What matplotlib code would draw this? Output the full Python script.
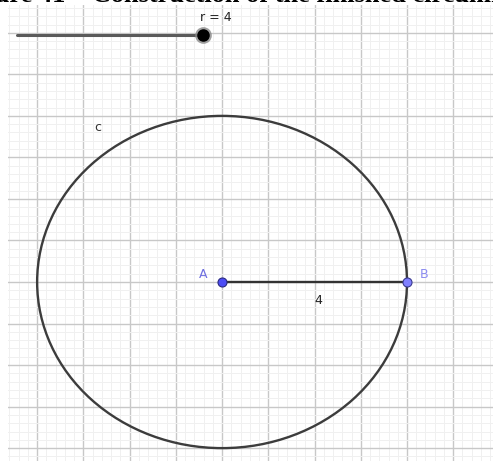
import matplotlib
matplotlib.use("Agg")
import matplotlib.pyplot as plt
from matplotlib.patches import Circle
from matplotlib.ticker import MultipleLocator

# construction values
r = 4
center = (0, 0)
point_names = ["A", "B"]
slider_min = -4.43
slider_max = -0.41
x_range = (-4.63, 5.86)
y_range = (-4.31, 6.67)
caption = "Figure 41 – Construction of the finished circumference"

fig = plt.figure(figsize=(4.93, 4.61), dpi=100)
ax = fig.add_axes([8 / 493, 0, 1 - 8 / 493, 1 - 5 / 461])
ax.set_xlim(*x_range)
ax.set_ylim(*y_range)

# grid like geogebra
ax.xaxis.set_major_locator(MultipleLocator(1))
ax.yaxis.set_major_locator(MultipleLocator(1))
ax.xaxis.set_minor_locator(MultipleLocator(0.2))
ax.yaxis.set_minor_locator(MultipleLocator(0.2))
ax.grid(which="minor", color="#f0f0f0", lw=0.7)
ax.grid(which="major", color="#c8c8c8", lw=1.0)
ax.set_axisbelow(True)
ax.tick_params(which="both", length=0, labelbottom=False, labelleft=False)
for s in ax.spines.values():
    s.set_visible(False)

# circle c
ax.add_patch(Circle(center, r, fill=False, ec="#3c3c3c", lw=1.7, zorder=3))
ax.text(-2.68, 3.71, "c", fontsize=9, color="#333333", ha="center", va="center")

# radius segment
bx = center[0] + r
ax.plot([center[0], bx], [center[1], center[1]], color="#333333", lw=1.7, zorder=4)
ax.text((center[0] + bx) / 2 + 0.08, -0.45, str(r), fontsize=9, color="#222222",
        ha="center", va="center")

ax.plot(center[0], center[1], "o", ms=6.5, mfc="#4d4df5", mec="#2a2a80", mew=0.8, zorder=5)
ax.plot(bx, center[1], "o", ms=6.5, mfc="#8080ff", mec="#3a3a90", mew=0.8, zorder=5)
ax.text(center[0] - 0.4, 0.17, point_names[0], fontsize=9, color="#6f6fe0",
        ha="center", va="center")
ax.text(bx + 0.37, 0.17, point_names[1], fontsize=9, color="#8b8bf0",
        ha="center", va="center")

# slider r
sy = 5.95
knob = slider_min + (slider_max - slider_min) * r / 4
ax.plot([slider_min, slider_max], [sy, sy], color="#5a5a5a", lw=2.2,
        solid_capstyle="round", zorder=4)
ax.plot(knob, sy, "o", ms=12, mfc="#888888", mec="none", alpha=0.8, zorder=5)
ax.plot(knob, sy, "o", ms=8, mfc="black", mec="black", zorder=6)
ax.text(knob + 0.28, 6.36, f"r = {r}", fontsize=9, color="#222222",
        ha="center", va="center")

# caption, cut off at the top like the screenshot
fig.text(-0.085, 1 - 2 / 461, caption, fontsize=19, fontweight="bold",
         family="Liberation Serif", ha="left", va="baseline")

fig.savefig("out.png", dpi=100)
